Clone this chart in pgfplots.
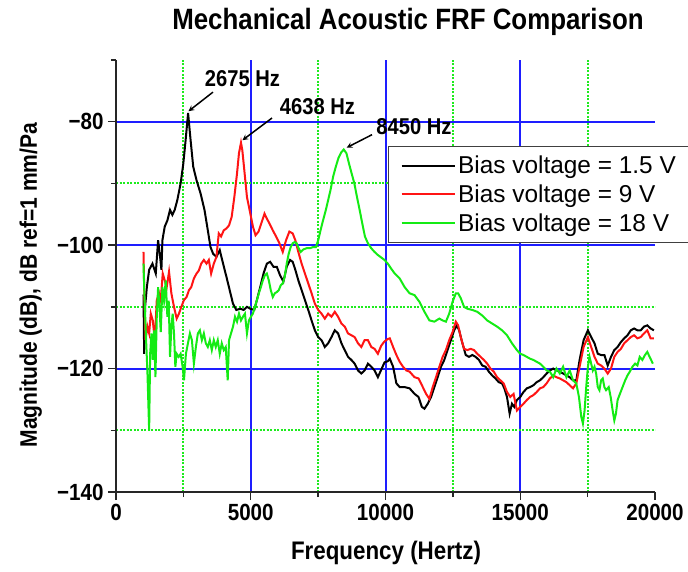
\documentclass[border=0pt]{standalone}
\usepackage{pgfplots}
\pgfplotsset{compat=1.18}
\usepackage{fontspec}
\setmainfont{Liberation Sans}
\newfontfamily\narrowfont{Liberation Sans}[FakeStretch=0.88]
\definecolor{gridblue}{RGB}{30,30,255}
\definecolor{gridgreen}{RGB}{30,235,30}
\definecolor{curvegreen}{RGB}{20,235,20}
\definecolor{curvered}{RGB}{255,20,20}

% Bias voltage = 1.5 V
\pgfplotstableread{
f m
1020 -108.0
1045 -117.6
1080 -110.0
1145 -106.8
1230 -104.0
1353 -103.0
1476 -104.6
1562 -99.2
1636 -101.9
1685 -104.0
1722 -99.2
1808 -97.0
1906 -96.0
2005 -94.3
2091 -95.1
2177 -94.3
2275 -92.7
2398 -90.0
2497 -86.8
2583 -83.0
2675 -78.6
2768 -83.0
2866 -87.3
2989 -89.5
3137 -91.6
3284 -94.3
3407 -97.6
3506 -100.3
3604 -101.4
3727 -101.9
3850 -100.8
3973 -103.0
4096 -105.1
4219 -107.3
4342 -109.5
4465 -110.5
4613 -110.3
4736 -110.5
4859 -110.0
4982 -110.3
5129 -110.5
5228 -108.9
5351 -106.8
5474 -104.6
5597 -103.0
5720 -102.7
5843 -103.5
5966 -103.5
6089 -104.9
6212 -105.9
6335 -103.5
6458 -102.4
6556 -102.7
6654 -104.0
6765 -105.7
6888 -107.3
7011 -108.9
7134 -110.5
7257 -112.2
7380 -113.8
7503 -114.9
7626 -115.4
7749 -116.5
7872 -115.9
7995 -114.9
8118 -113.8
8241 -114.3
8364 -115.9
8487 -117.0
8610 -118.1
8733 -118.6
8856 -119.2
8979 -120.3
9102 -120.8
9225 -120.3
9348 -119.2
9471 -119.7
9594 -120.3
9717 -121.4
9840 -120.2
9963 -119.0
10086 -118.8
10159 -118.4
10282 -119.7
10404 -122.4
10527 -123.0
10710 -123.0
10894 -123.2
11078 -124.1
11225 -124.6
11348 -126.2
11446 -126.5
11568 -125.7
11691 -124.6
11813 -123.0
11936 -121.4
12058 -119.7
12181 -118.6
12303 -117.0
12426 -115.4
12548 -113.8
12646 -113.0
12732 -113.8
12854 -115.9
12977 -117.8
13099 -118.1
13222 -117.8
13344 -118.1
13467 -118.6
13589 -119.5
13712 -119.7
13834 -120.5
13957 -121.1
14079 -121.6
14202 -122.2
14324 -122.4
14410 -123.2
14508 -124.6
14606 -127.3
14692 -125.7
14777 -126.2
14875 -125.1
15000 -124.6
15120 -123.8
15243 -123.2
15365 -123.0
15488 -122.7
15610 -122.2
15733 -121.9
15855 -121.4
15978 -120.8
16100 -120.3
16223 -120.0
16345 -120.3
16468 -120.5
16590 -120.8
16713 -121.1
16835 -121.4
16958 -121.9
17080 -121.9
17203 -118.6
17350 -115.4
17510 -113.8
17632 -114.9
17755 -115.9
17877 -117.6
18000 -117.8
18122 -117.8
18245 -119.5
18367 -118.1
18490 -117.0
18612 -116.5
18735 -115.7
18857 -115.1
18980 -114.6
19102 -113.8
19224 -113.5
19347 -113.8
19469 -113.8
19592 -113.2
19714 -113.0
19837 -113.5
19960 -113.8
}\seriesA

% Bias voltage = 9 V
\pgfplotstableread{
f m
1020 -101.1
1045 -106.8
1095 -115.4
1168 -113.2
1230 -114.3
1291 -111.1
1365 -112.2
1439 -115.4
1513 -108.9
1599 -107.8
1660 -108.9
1734 -104.6
1808 -105.7
1882 -106.8
1968 -104.3
2054 -107.8
2152 -110.0
2251 -111.9
2337 -111.1
2423 -110.0
2522 -108.9
2620 -108.4
2706 -107.3
2792 -106.8
2890 -105.4
2989 -104.6
3075 -104.1
3161 -103.0
3260 -102.4
3358 -103.0
3444 -102.4
3530 -104.6
3629 -103.0
3727 -101.9
3813 -98.1
3899 -98.6
3998 -97.6
4096 -97.3
4194 -96.8
4293 -95.4
4391 -92.2
4490 -88.4
4563 -85.1
4638 -83.4
4687 -84.6
4760 -87.8
4859 -92.2
4957 -94.3
5080 -97.0
5178 -98.4
5289 -97.8
5412 -96.2
5510 -94.9
5597 -95.7
5695 -96.5
5818 -97.6
5941 -98.6
6064 -99.7
6187 -101.1
6310 -99.2
6433 -97.8
6556 -98.1
6654 -99.2
6765 -101.1
6888 -103.0
7011 -104.6
7134 -106.2
7257 -107.8
7380 -109.5
7503 -110.5
7626 -111.1
7749 -111.9
7872 -111.1
7995 -111.6
8118 -110.8
8241 -111.6
8364 -112.7
8487 -113.2
8610 -114.3
8733 -114.6
8856 -114.9
8979 -115.9
9102 -116.5
9225 -115.4
9348 -115.4
9471 -116.5
9594 -116.8
9717 -117.6
9840 -116.3
9963 -115.6
10086 -115.2
10159 -115.1
10282 -116.5
10404 -117.8
10527 -118.9
10649 -119.7
10772 -120.3
10894 -120.5
11078 -121.4
11225 -121.6
11384 -123.0
11507 -124.1
11629 -124.9
11752 -123.0
11874 -121.4
11997 -119.7
12119 -118.1
12242 -117.0
12364 -115.4
12487 -114.1
12609 -112.4
12695 -113.0
12793 -114.9
12915 -116.8
13038 -117.0
13160 -116.8
13283 -117.0
13405 -117.6
13528 -118.1
13650 -118.6
13773 -119.2
13895 -120.0
14018 -120.5
14140 -121.4
14263 -121.9
14385 -122.4
14508 -123.8
14630 -124.6
14753 -124.1
14875 -126.8
15000 -126.2
15120 -125.7
15243 -125.1
15365 -124.6
15488 -124.3
15610 -123.8
15733 -123.2
15855 -123.0
15978 -122.4
16100 -121.6
16223 -121.1
16345 -121.4
16468 -121.6
16590 -121.9
16713 -122.2
16835 -122.7
16958 -123.2
17080 -122.4
17203 -119.7
17350 -116.5
17510 -114.9
17632 -116.5
17755 -118.1
17877 -119.2
18000 -119.5
18122 -120.0
18245 -120.8
18367 -120.0
18490 -118.1
18612 -117.3
18735 -116.8
18857 -115.9
18980 -115.4
19102 -114.9
19224 -114.6
19347 -115.1
19469 -114.9
19592 -114.3
19714 -113.8
19837 -115.1
19960 -115.1
}\seriesB

% Bias voltage = 18 V
\pgfplotstableread{
f m
1020 -103.0
1045 -106.8
1107 -114.3
1168 -120.8
1230 -130.0
1267 -117.6
1316 -114.3
1365 -118.6
1414 -113.8
1463 -121.4
1513 -111.6
1562 -106.8
1611 -109.7
1660 -114.1
1722 -106.8
1783 -109.0
1845 -105.7
1906 -111.6
1956 -109.0
2005 -118.1
2054 -113.2
2103 -111.1
2152 -114.3
2202 -119.7
2251 -117.6
2325 -118.1
2398 -117.6
2472 -119.7
2522 -121.9
2595 -117.6
2669 -115.9
2743 -114.3
2817 -115.4
2890 -119.2
2964 -116.5
3038 -114.3
3112 -113.8
3186 -115.4
3260 -114.3
3333 -115.9
3407 -116.5
3481 -115.4
3555 -117.0
3629 -115.4
3702 -116.5
3776 -115.4
3850 -117.6
3924 -115.9
3998 -117.0
4072 -116.5
4145 -121.9
4194 -115.4
4268 -114.3
4342 -113.2
4416 -111.6
4490 -112.4
4563 -111.1
4637 -112.2
4711 -111.6
4785 -111.1
4859 -114.3
4932 -112.2
5006 -111.6
5080 -111.1
5154 -110.0
5228 -108.9
5301 -107.8
5375 -106.8
5449 -105.7
5523 -104.9
5597 -104.6
5670 -105.7
5744 -107.3
5818 -108.4
5892 -107.8
5966 -107.6
6039 -107.3
6113 -106.5
6187 -106.2
6261 -105.1
6335 -103.0
6408 -101.4
6482 -100.3
6556 -99.7
6630 -99.5
6703 -99.7
6777 -100.5
6851 -101.1
6949 -100.7
7072 -100.5
7196 -100.5
7318 -100.3
7417 -100.3
7503 -99.2
7589 -97.6
7688 -95.9
7786 -94.3
7872 -92.7
7958 -91.1
8057 -88.9
8155 -87.3
8253 -85.9
8352 -85.0
8450 -84.5
8549 -85.1
8647 -86.8
8745 -88.4
8844 -90.0
8942 -92.2
9041 -94.3
9139 -96.5
9237 -98.6
9348 -99.7
9471 -100.5
9594 -101.1
9717 -101.6
9840 -102.0
9963 -102.4
10086 -103.0
10209 -103.8
10343 -104.6
10527 -105.4
10710 -106.8
10894 -107.8
11078 -108.1
11262 -109.2
11446 -110.8
11629 -112.2
11813 -112.4
11997 -111.9
12119 -112.2
12242 -112.4
12364 -111.1
12487 -109.2
12609 -107.8
12695 -107.8
12793 -108.6
12915 -110.0
13038 -110.3
13222 -110.5
13405 -110.8
13589 -111.4
13773 -112.2
13957 -112.7
14140 -113.2
14324 -113.8
14508 -114.6
14692 -115.9
14875 -117.0
15000 -117.6
15120 -117.8
15243 -118.1
15365 -118.4
15488 -118.6
15610 -118.9
15733 -119.2
15855 -119.7
15978 -120.3
16100 -120.5
16223 -121.4
16345 -120.0
16468 -120.8
16590 -119.7
16713 -121.4
16835 -120.3
16958 -121.9
17080 -122.4
17178 -124.6
17264 -127.8
17325 -128.9
17387 -126.8
17448 -123.0
17510 -119.7
17571 -118.1
17632 -119.2
17693 -120.3
17755 -119.7
17816 -120.8
17877 -123.0
17938 -123.5
18000 -121.9
18061 -121.6
18122 -123.0
18184 -123.5
18282 -123.0
18355 -124.6
18429 -126.8
18490 -128.4
18551 -127.3
18612 -125.1
18698 -124.1
18796 -123.0
18894 -121.9
18980 -121.1
19065 -120.5
19163 -119.7
19261 -119.2
19347 -119.5
19433 -118.1
19531 -118.6
19629 -117.8
19714 -117.3
19800 -118.1
19922 -119.2
}\seriesC

\begin{document}
\begin{tikzpicture}
\path[use as bounding box] (0bp,0bp) rectangle (688bp,-572bp);

\node[font=\narrowfont\bfseries\fontsize{29.5}{30}\selectfont] at (408bp,-22bp)
  {Mechanical Acoustic FRF Comparison};

\begin{axis}[
  at={(116bp,-492bp)}, anchor=south west,
  scale only axis, width=539bp, height=432bp,
  xmin=0, xmax=20000, ymin=-140, ymax=-70,
  clip=false,
  axis x line=bottom, axis y line=left,
  axis line style={-, line width=1.6bp, black!85},
  xtick={0,5000,10000,15000},
  extra x ticks={20000},
  extra x tick style={grid=none},
  minor xtick={2500,7500,12500,17500},
  ytick={-140,-120,-100,-80},
  yticklabels={−140,−120,−100,−80},
  minor ytick={-130,-110,-90},
  extra y ticks={-70},
  extra y tick labels={},
  extra y tick style={grid=none, major tick length=5bp},
  scaled x ticks=false,
  tick align=outside,
  major tick length=8bp, minor tick length=5bp,
  tick style={line width=1.4bp, black!85},
  grid=both,
  major grid style={gridblue, line width=2bp, solid},
  minor grid style={gridgreen, line width=2bp, dash pattern=on 2bp off 1.5bp},
  /pgf/number format/assume math mode=true,
  /pgf/number format/set thousands separator={},
  ticklabel style={font=\narrowfont\bfseries\fontsize{23.5}{24}\selectfont},
  xticklabel style={yshift=-1bp},
  yticklabel style={xshift=-1bp},
  xlabel={Frequency (Hertz)},
  xlabel style={at={(axis description cs:0.501,0)}, anchor=center, yshift=-61bp,
    font=\narrowfont\bfseries\fontsize{25.5}{26}\selectfont},
  ylabel={Magnitude (dB), dB ref=1 mm/Pa},
  ylabel style={at={(axis description cs:-0.158,0.479)}, anchor=center, rotate=0,
    font=\narrowfont\bfseries\fontsize{24}{25}\selectfont},
  legend style={at={(axis description cs:0.5046,0.801)}, anchor=north west,
    draw=black!75, line width=1.3bp, fill=white,
    font=\fontsize{24.5}{25}\selectfont,
    inner xsep=12bp, inner ysep=7bp, row sep=4.5bp,
    nodes={inner sep=2.5bp}},
  legend cell align=left,
  legend image code/.code={\draw[#1, line width=2bp] (0bp,0bp) -- (53bp,0bp);},
]
\addplot[black, line width=2bp] table[x=f, y=m] {\seriesA};
\addlegendentry{Bias voltage = 1.5 V}
\addplot[curvered, line width=2bp] table[x=f, y=m] {\seriesB};
\addlegendentry{Bias voltage = 9 V}
\addplot[curvegreen, line width=2bp] table[x=f, y=m] {\seriesC};
\addlegendentry{Bias voltage = 18 V}

\node[font=\narrowfont\bfseries\fontsize{23}{24}\selectfont] at (axis cs:4694,-72.95) {2675 Hz};
\draw[-stealth, line width=1.5bp] (axis cs:3599,-75.2) -- (axis cs:2690,-78.3);
\node[font=\narrowfont\bfseries\fontsize{23}{24}\selectfont] at (axis cs:7477,-77.6) {4638 Hz};
\draw[-stealth, line width=1.5bp] (axis cs:5788,-79.4) -- (axis cs:4690,-83.0);
\node[font=\narrowfont\bfseries\fontsize{23}{24}\selectfont] at (axis cs:11057,-80.85) {8450 Hz};
\draw[-stealth, line width=1.5bp] (axis cs:9499,-82.1) -- (axis cs:8560,-84.2);
\end{axis}
\end{tikzpicture}
\end{document}
